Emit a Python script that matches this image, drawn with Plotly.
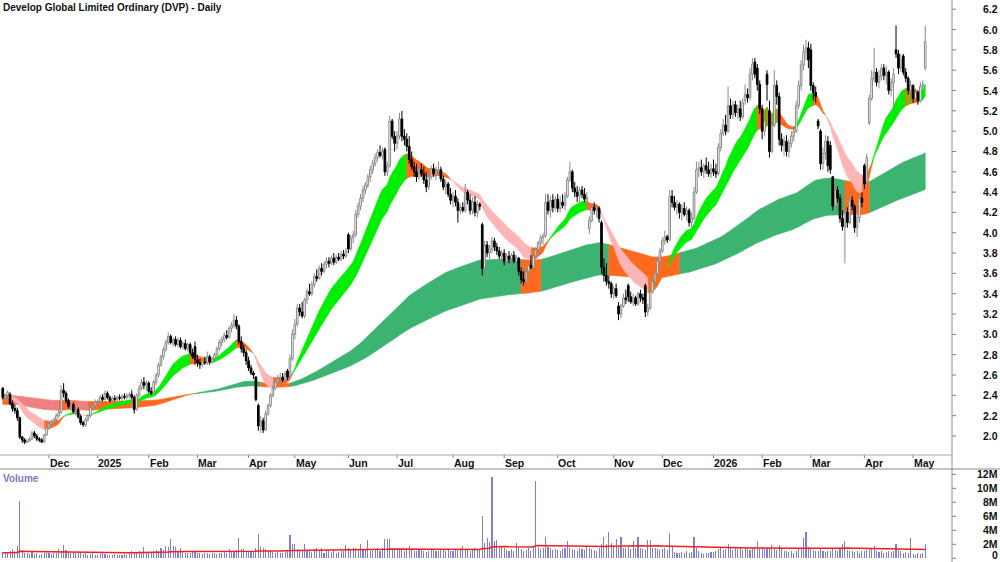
import numpy as np
import pandas as pd
import plotly.graph_objects as go

# ---------------------------------------------------------------- data
TITLE = "Develop Global Limited Ordinary (DVP) - Daily"
FIRST_DAY, LAST_DAY = "2024-11-05", "2026-05-08"
ASX_HOLIDAYS = ["2024-12-25", "2024-12-26", "2025-01-01", "2025-01-27", "2025-04-18",
                "2025-04-21", "2025-04-25", "2025-06-09", "2025-12-25", "2025-12-26",
                "2026-01-01", "2026-01-26", "2026-04-03", "2026-04-06"]

open_px = [
    2.47,2.38,2.40,2.41,2.32,2.27,2.25,2.18,1.99,1.96,1.94,1.95,1.97,2.03,2.00,1.97,1.96,1.94,2.01,
    2.08,2.12,2.14,2.16,2.20,2.23,2.45,2.42,2.35,2.29,2.31,2.24,2.26,2.19,2.13,2.11,2.16,2.20,2.28,2.30,
    2.33,2.34,2.38,2.36,2.42,2.38,2.35,2.37,2.36,2.38,2.37,2.39,2.38,2.40,2.41,2.38,2.26,2.40,2.47,2.53,2.50,
    2.52,2.44,2.42,2.53,2.60,2.70,2.78,2.85,2.92,2.98,2.92,2.95,2.90,2.94,2.88,2.91,2.86,2.90,2.82,2.88,
    2.75,2.72,2.70,2.73,2.72,2.78,2.73,2.76,2.80,2.86,2.92,2.95,2.99,2.97,3.06,3.09,3.14,3.08,2.93,2.86,2.82,
    2.74,2.67,2.62,2.58,2.30,2.10,2.15,2.06,2.22,2.30,2.40,2.47,2.53,2.56,2.58,2.55,2.64,2.58,2.76,
    3.00,3.10,3.26,3.22,3.18,3.34,3.42,3.40,3.49,3.57,3.55,3.65,3.62,3.69,3.72,3.70,3.75,3.71,3.76,3.74,3.79,3.77,
    3.98,3.84,3.95,3.98,4.18,4.26,4.34,4.42,4.47,4.55,4.62,4.68,4.74,4.79,4.76,4.82,4.60,4.66,5.10,4.95,
    4.88,4.95,5.12,4.95,4.92,4.85,4.72,4.65,4.60,4.55,4.62,4.58,4.52,4.45,4.55,4.63,4.58,4.60,4.62,4.53,4.45,4.48,4.38,
    4.32,4.36,4.30,4.22,4.25,4.22,4.40,4.32,4.22,4.30,4.20,4.28,4.08,3.65,3.88,3.80,3.84,3.92,3.86,3.82,3.77,
    3.80,3.72,3.77,3.74,3.78,3.72,3.75,3.62,3.54,3.52,3.62,3.68,3.66,3.77,3.83,3.90,3.95,3.97,4.30,4.22,4.32,4.25,
    4.33,4.24,4.30,4.27,4.36,4.52,4.60,4.44,4.40,4.36,4.42,4.38,4.33,4.04,4.12,4.25,4.22,4.24,4.10,3.66,3.58,3.52,3.50,
    3.40,3.45,3.28,3.20,3.28,3.36,3.48,3.37,3.32,3.36,3.30,3.40,3.36,3.48,3.22,3.26,3.42,3.52,3.60,3.72,
    3.82,3.92,3.96,3.93,4.36,4.30,4.25,4.28,4.20,4.24,4.18,4.22,4.10,4.14,4.40,4.62,4.64,4.60,4.66,4.62,4.58,
    4.63,4.60,4.58,4.84,4.98,5.06,5.00,5.25,5.16,5.26,5.18,5.22,5.14,5.30,5.36,5.33,5.56,5.68,5.62,5.46,
    5.22,5.00,5.56,5.20,4.80,5.06,5.45,5.34,4.92,4.86,4.90,4.80,4.88,4.95,5.00,5.25,5.45,5.65,5.78,5.82,
    5.80,5.45,5.38,5.10,5.00,4.68,4.78,4.90,4.86,4.55,4.26,4.42,4.34,4.14,4.06,4.20,4.10,4.32,4.26,4.05,4.15,4.34,
    4.66,4.50,5.08,5.32,5.52,5.58,5.48,5.54,5.62,5.55,5.58,5.40,5.48,5.80,5.76,5.62,5.74,5.58,5.52,5.40,
    5.45,5.32,5.38,5.30,5.44,5.62,
]
high_px = [
    2.48,2.42,2.45,2.43,2.35,2.31,2.28,2.19,2.00,1.98,1.97,1.99,2.05,2.05,2.02,1.99,1.98,2.02,2.10,
    2.14,2.16,2.18,2.22,2.25,2.50,2.52,2.44,2.37,2.33,2.33,2.28,2.28,2.21,2.15,2.18,2.22,2.30,2.33,2.36,
    2.36,2.40,2.41,2.45,2.44,2.40,2.39,2.40,2.40,2.41,2.41,2.42,2.42,2.43,2.45,2.40,2.42,2.50,2.56,2.58,2.55,
    2.54,2.48,2.55,2.62,2.72,2.80,2.88,2.95,3.02,3.00,2.97,2.98,2.97,2.97,2.93,2.95,2.92,2.92,2.86,2.93,
    2.80,2.76,2.74,2.78,2.83,2.80,2.78,2.82,2.88,2.95,2.98,3.02,3.04,3.08,3.12,3.20,3.18,3.10,2.98,2.90,2.85,
    2.78,2.70,2.64,2.59,2.32,2.20,2.18,2.25,2.32,2.42,2.50,2.56,2.60,2.62,2.62,2.64,2.66,2.80,3.05,
    3.15,3.30,3.30,3.32,3.36,3.45,3.50,3.52,3.60,3.64,3.68,3.70,3.72,3.76,3.76,3.78,3.80,3.78,3.80,3.82,3.83,3.85,
    4.00,3.98,4.02,4.22,4.30,4.38,4.46,4.50,4.58,4.66,4.72,4.78,4.82,4.86,4.84,4.84,4.70,5.15,5.12,5.00,
    5.00,5.18,5.20,5.02,4.98,4.95,4.80,4.70,4.68,4.66,4.68,4.65,4.60,4.58,4.66,4.68,4.65,4.70,4.65,4.56,4.52,4.50,4.44,
    4.40,4.42,4.34,4.28,4.30,4.48,4.42,4.38,4.35,4.36,4.32,4.30,4.10,3.92,3.92,3.88,3.96,3.95,3.90,3.86,3.83,
    3.84,3.80,3.82,3.80,3.82,3.78,3.76,3.66,3.62,3.66,3.72,3.78,3.80,3.86,3.92,3.98,4.00,4.38,4.38,4.36,4.38,4.36,
    4.38,4.36,4.38,4.40,4.55,4.70,4.62,4.50,4.46,4.45,4.46,4.44,4.40,4.16,4.28,4.30,4.28,4.26,4.12,3.75,3.70,3.58,3.52,
    3.48,3.50,3.32,3.30,3.40,3.44,3.50,3.42,3.40,3.38,3.42,3.44,3.40,3.50,3.30,3.45,3.55,3.62,3.75,3.85,
    3.95,4.02,3.98,4.42,4.42,4.36,4.32,4.30,4.28,4.30,4.26,4.24,4.20,4.45,4.70,4.70,4.72,4.68,4.74,4.70,4.68,
    4.72,4.68,4.88,5.02,5.12,5.16,5.44,5.32,5.30,5.30,5.26,5.30,5.32,5.46,5.42,5.62,5.72,5.72,5.66,5.50,
    5.26,5.15,5.60,5.30,5.12,5.60,5.50,5.38,4.98,4.95,4.96,4.92,5.00,5.05,5.30,5.50,5.70,5.85,5.90,5.88,
    5.86,5.48,5.44,5.12,5.02,4.84,4.96,4.95,4.90,4.56,4.48,4.46,4.38,4.22,4.22,4.25,4.38,4.36,4.28,4.18,4.38,4.40,
    4.68,4.78,5.36,5.60,5.82,5.62,5.60,5.66,5.66,5.64,5.60,5.52,5.62,6.04,5.80,5.76,5.76,5.62,5.54,5.50,
    5.46,5.42,5.40,5.48,5.50,6.04,
]
low_px = [
    2.36,2.33,2.36,2.30,2.24,2.22,2.15,1.97,1.93,1.92,1.93,1.94,1.96,1.98,1.95,1.94,1.93,1.94,2.00,
    2.06,2.09,2.11,2.14,2.18,2.22,2.38,2.32,2.27,2.24,2.22,2.20,2.17,2.11,2.09,2.09,2.14,2.18,2.25,2.27,
    2.30,2.32,2.34,2.35,2.36,2.33,2.33,2.34,2.33,2.35,2.34,2.36,2.36,2.37,2.36,2.22,2.25,2.38,2.45,2.46,2.44,
    2.42,2.40,2.41,2.50,2.58,2.68,2.75,2.83,2.90,2.90,2.88,2.88,2.87,2.86,2.85,2.84,2.83,2.80,2.76,2.70,
    2.68,2.66,2.68,2.70,2.70,2.70,2.71,2.74,2.78,2.84,2.88,2.92,2.95,2.96,3.02,3.06,3.05,2.90,2.82,2.78,2.70,
    2.64,2.60,2.56,2.34,2.05,2.03,2.03,2.05,2.20,2.28,2.38,2.45,2.50,2.52,2.53,2.53,2.55,2.56,2.74,
    2.95,3.08,3.18,3.16,3.16,3.30,3.38,3.38,3.46,3.52,3.54,3.58,3.60,3.65,3.66,3.68,3.68,3.69,3.72,3.72,3.74,3.75,
    3.80,3.82,3.90,3.96,4.15,4.22,4.30,4.38,4.44,4.50,4.58,4.65,4.70,4.74,4.72,4.56,4.56,4.64,4.92,4.80,
    4.82,4.92,4.90,4.86,4.80,4.68,4.62,4.55,4.50,4.52,4.55,4.48,4.40,4.42,4.52,4.55,4.52,4.56,4.50,4.42,4.38,4.35,4.28,
    4.25,4.26,4.10,4.18,4.20,4.20,4.28,4.18,4.18,4.16,4.15,4.22,3.58,3.56,3.76,3.74,3.80,3.82,3.78,3.74,3.72,
    3.68,3.66,3.70,3.66,3.70,3.64,3.58,3.50,3.48,3.50,3.58,3.64,3.64,3.74,3.80,3.86,3.88,3.95,4.18,4.15,4.20,4.22,
    4.20,4.20,4.24,4.22,4.34,4.50,4.40,4.35,4.30,4.30,4.34,4.30,4.22,3.99,4.10,4.18,4.15,4.10,3.60,3.52,3.48,3.45,3.36,
    3.35,3.36,3.14,3.16,3.26,3.30,3.32,3.30,3.28,3.28,3.28,3.32,3.30,3.17,3.18,3.24,3.40,3.48,3.58,3.70,
    3.80,3.88,3.90,3.92,4.25,4.22,4.18,4.14,4.12,4.16,4.12,4.06,4.05,4.12,4.38,4.55,4.56,4.54,4.58,4.55,4.54,
    4.56,4.54,4.56,4.80,4.95,4.96,4.98,5.12,5.12,5.14,5.12,5.10,5.12,5.26,5.28,5.30,5.50,5.52,5.40,5.17,
    4.92,4.95,5.30,4.74,4.78,5.04,5.26,4.86,4.80,4.76,4.75,4.74,4.84,4.90,4.98,5.22,5.40,5.60,5.70,5.62,
    5.40,5.30,5.28,5.02,4.62,4.62,4.72,4.60,4.58,4.22,4.24,4.30,4.10,4.02,3.70,4.05,4.08,4.22,4.00,3.96,4.10,4.25,
    4.43,4.48,5.06,5.30,5.48,5.44,5.42,5.50,5.50,5.46,5.36,5.34,5.20,5.72,5.56,5.58,5.55,5.48,5.36,5.34,
    5.28,5.28,5.26,5.28,5.40,5.60,
]
close_px = [
    2.38,2.40,2.43,2.32,2.27,2.25,2.18,1.99,1.96,1.94,1.95,1.97,2.03,2.00,1.97,1.96,1.94,2.01,2.08,
    2.12,2.14,2.16,2.20,2.23,2.45,2.42,2.35,2.29,2.31,2.24,2.26,2.19,2.13,2.11,2.16,2.20,2.28,2.30,2.33,
    2.34,2.38,2.36,2.42,2.38,2.35,2.37,2.36,2.38,2.37,2.39,2.38,2.40,2.41,2.38,2.26,2.40,2.47,2.53,2.50,2.52,
    2.44,2.42,2.53,2.60,2.70,2.78,2.85,2.92,2.98,2.92,2.95,2.90,2.94,2.88,2.91,2.86,2.90,2.82,2.78,2.75,
    2.72,2.70,2.73,2.72,2.78,2.73,2.76,2.80,2.86,2.92,2.95,2.99,2.97,3.06,3.09,3.14,3.08,2.93,2.86,2.82,2.74,
    2.67,2.62,2.60,2.36,2.10,2.15,2.06,2.22,2.30,2.40,2.47,2.53,2.56,2.58,2.55,2.61,2.58,2.76,3.00,
    3.10,3.26,3.22,3.18,3.34,3.42,3.40,3.49,3.57,3.55,3.65,3.62,3.69,3.72,3.70,3.75,3.71,3.76,3.74,3.79,3.77,3.82,
    3.84,3.95,3.98,4.18,4.26,4.34,4.42,4.47,4.55,4.62,4.68,4.74,4.79,4.76,4.80,4.60,4.66,5.10,4.95,4.88,
    4.95,5.12,4.95,4.92,4.85,4.72,4.65,4.60,4.55,4.62,4.58,4.52,4.45,4.55,4.63,4.58,4.60,4.62,4.53,4.45,4.48,4.38,4.32,
    4.36,4.30,4.22,4.25,4.22,4.40,4.32,4.22,4.30,4.20,4.28,4.26,3.65,3.88,3.80,3.84,3.92,3.86,3.82,3.77,3.80,
    3.72,3.77,3.74,3.78,3.72,3.75,3.62,3.54,3.52,3.62,3.68,3.66,3.77,3.83,3.90,3.95,3.97,4.30,4.22,4.32,4.25,4.33,
    4.24,4.30,4.27,4.36,4.52,4.60,4.44,4.40,4.36,4.42,4.38,4.33,4.35,4.12,4.25,4.22,4.24,4.14,3.66,3.58,3.52,3.50,3.40,
    3.45,3.38,3.20,3.28,3.36,3.34,3.37,3.32,3.36,3.30,3.40,3.36,3.34,3.22,3.26,3.42,3.52,3.60,3.72,3.82,
    3.92,3.96,3.93,4.36,4.30,4.25,4.28,4.20,4.24,4.18,4.22,4.10,4.14,4.40,4.62,4.64,4.60,4.66,4.62,4.58,4.63,
    4.60,4.58,4.84,4.98,5.06,5.00,5.25,5.16,5.26,5.18,5.22,5.14,5.28,5.36,5.33,5.56,5.66,5.56,5.46,5.22,
    5.00,5.10,5.46,4.80,5.06,5.45,5.34,4.92,4.86,4.90,4.80,4.88,4.95,5.00,5.25,5.45,5.65,5.78,5.82,5.70,
    5.45,5.38,5.34,5.05,4.68,4.78,4.90,4.66,4.62,4.26,4.42,4.34,4.14,4.06,4.20,4.10,4.32,4.26,4.05,4.15,4.34,4.30,
    4.48,4.74,5.32,5.52,5.58,5.48,5.54,5.62,5.55,5.58,5.40,5.48,5.56,5.76,5.62,5.70,5.58,5.52,5.40,5.45,
    5.32,5.38,5.30,5.44,5.46,5.88,
]
volume_m = [
    0.9,0.7,0.8,1.0,1.3,1.0,1.7,8.2,1.2,0.8,0.7,0.6,0.9,0.6,0.7,0.5,0.6,0.7,0.8,
    0.7,0.6,0.8,0.7,1.3,1.0,1.9,1.2,0.9,0.8,0.9,0.7,0.8,0.9,0.6,0.7,0.5,0.6,0.7,0.4,
    0.5,0.6,0.7,0.6,0.5,0.4,0.5,0.6,0.5,0.4,0.5,0.6,0.5,0.7,1.1,0.9,0.8,1.0,0.9,1.6,0.8,
    0.9,0.8,1.0,1.2,1.0,1.4,1.2,1.7,1.6,2.7,1.8,1.6,1.1,1.5,1.0,0.8,0.7,0.8,0.9,1.0,
    0.8,0.7,0.6,0.8,0.7,0.6,0.7,0.8,0.6,0.7,0.8,0.9,0.7,1.3,1.0,0.9,1.2,2.9,1.3,1.3,1.1,
    1.0,0.9,1.0,1.4,3.4,1.6,1.4,1.3,1.1,1.0,0.9,0.8,0.9,0.8,0.7,0.9,1.0,3.3,2.0,
    2.0,1.3,1.1,1.0,2.0,1.2,1.0,0.9,1.3,1.4,1.2,1.5,0.8,1.0,1.1,0.9,1.2,0.8,0.9,1.0,1.1,1.9,
    1.4,1.3,1.5,1.4,1.3,2.1,1.2,1.3,2.6,1.0,1.1,1.2,1.4,1.1,1.5,2.8,2.8,2.7,1.2,1.3,
    1.3,1.4,1.2,1.1,1.3,1.7,1.2,1.0,1.1,1.3,1.2,1.0,0.9,1.1,1.2,1.3,1.1,1.0,1.2,1.3,1.1,1.2,1.0,
    1.1,1.2,1.3,1.4,1.7,1.3,1.2,1.1,1.3,1.4,1.2,1.3,6.0,2.2,2.9,2.3,11.6,2.4,2.6,1.5,1.6,
    1.4,1.2,1.0,1.3,1.1,2.2,1.5,1.3,1.0,1.2,1.4,1.1,1.6,11.1,1.5,1.3,1.4,3.1,1.6,1.4,1.2,1.3,
    1.2,1.1,1.3,1.4,2.4,1.5,1.3,1.2,1.1,1.4,1.3,1.2,1.8,1.4,1.3,1.2,1.1,1.5,2.0,3.1,2.0,3.7,2.2,
    1.8,2.8,1.6,3.0,1.5,1.4,1.6,1.3,2.5,1.4,3.0,1.5,1.3,1.2,2.6,2.6,1.5,1.4,1.3,1.2,
    1.3,1.5,1.2,3.6,1.6,0.9,0.8,0.7,0.9,0.8,1.0,0.8,0.9,3.0,1.4,1.0,0.8,0.6,0.7,0.8,0.9,
    0.9,1.0,1.3,1.4,1.2,1.3,2.1,1.4,1.2,1.5,1.3,1.6,1.2,1.4,1.3,1.2,1.5,1.6,2.5,1.3,
    1.6,1.3,1.4,1.5,1.9,1.3,1.2,1.9,1.4,1.1,1.0,0.9,1.0,0.8,1.1,1.3,1.5,2.9,3.7,1.6,
    1.4,1.2,1.0,1.1,1.3,1.0,0.9,1.1,1.0,1.4,1.2,1.0,1.3,2.1,2.5,1.2,1.0,1.1,0.9,1.0,0.8,1.0,
    1.0,1.2,1.5,1.3,1.7,1.1,0.9,1.0,0.8,0.9,1.0,0.9,1.1,2.0,1.2,1.0,0.8,0.9,0.7,2.9,
    0.6,0.5,0.7,0.6,0.8,2.0,
]

price_ticks = [2.0, 2.2, 2.4, 2.6, 2.8, 3.0, 3.2, 3.4, 3.6, 3.8, 4.0, 4.2,
               4.4, 4.6, 4.8, 5.0, 5.2, 5.4, 5.6, 5.8, 6.0, 6.2]
volume_ticks = [0, 2, 4, 6, 8, 10, 12]
volume_tick_text = ["0", "2M", "4M", "6M", "8M", "10M", "12M"]
month_names = ["Jan", "Feb", "Mar", "Apr", "May", "Jun", "Jul", "Aug", "Sep", "Oct", "Nov", "Dec"]

# indicator settings (ribbons = EMA pairs, values at first bar)
FAST_PERIODS, FAST_SEED = (16, 28), (2.36, 2.40)
LONG_PERIODS, LONG_SEED = (140, 240), (2.31, 2.40)
TOUCH_GAP = 0.05          # fast ribbon counts as touching the long ribbon within this distance
VOL_MA_PERIOD, VOL_MA_SEED = 90, 0.8

# ---------------------------------------------------------------- derived
n = len(close_px)
idx = np.arange(n)
dates = pd.bdate_range(FIRST_DAY, LAST_DAY)
dates = dates[~dates.isin(pd.to_datetime(ASX_HOLIDAYS))][:n]


def ema(values, period, seed):
    a = 2.0 / (period + 1)
    out = [seed]
    for v in values[1:]:
        out.append(out[-1] + a * (v - out[-1]))
    return np.array(out)


closes = np.array(close_px)
fast_s = ema(closes, FAST_PERIODS[0], FAST_SEED[0])
fast_l = ema(closes, FAST_PERIODS[1], FAST_SEED[1])
long_s = ema(closes, LONG_PERIODS[0], LONG_SEED[0])
long_l = ema(closes, LONG_PERIODS[1], LONG_SEED[1])
vol_ma = ema(np.array(volume_m), VOL_MA_PERIOD, VOL_MA_SEED)

X_RANGE = [-1.13, 390.0]
PRICE_RANGE = [1.813, 6.2906]
VOL_RANGE = [-0.53, 12.757]
W, H = 1000, 562
AXIS_X = 952 / W
PRICE_DOMAIN = [1 - 455 / H, 1.0]
VOL_DOMAIN = [0.0, 1 - 469 / H]

fig = go.Figure()


def fast_state(s, l):
    out = []
    for i in range(n):
        j = max(i, 1)
        rising = s[j] >= s[j - 1]
        above = s[j] >= l[j]
        out.append("up" if above and rising else "down" if (not above and not rising) else "mixed")
    return out


def long_state(s, l, fast_low):
    out = []
    for i in range(n):
        j = max(i, 1)
        rising = s[j] >= s[j - 1]
        above = s[j] >= l[j]
        if above and fast_low[j] >= max(s[j], l[j]) + TOUCH_GAP:
            out.append("up")
        elif (not above) and (not rising):
            out.append("down")
        else:
            out.append("mixed")
    return out


def ribbon(s, l, state, colors):
    upper = np.maximum(s, l)
    lower = np.minimum(s, l)
    polys = {k: ([], []) for k in colors}
    a = 0
    for i in range(1, n + 1):
        if i == n or state[i] != state[a]:
            xs = list(range(max(a - 1, 0), i))
            px, py = polys[state[a]]
            px += xs + xs[::-1] + [xs[0], None]
            py += list(upper[xs]) + list(lower[xs][::-1]) + [upper[xs[0]], None]
            a = i
    for k, col in colors.items():
        px, py = polys[k]
        if px:
            fig.add_trace(go.Scatter(x=px, y=py, mode="lines", fill="toself", fillcolor=col,
                                     line=dict(color=col, width=0.6), hoverinfo="skip",
                                     xaxis="x", yaxis="y"))


fast_low = np.minimum(fast_s, fast_l)
ribbon(long_s, long_l, long_state(long_s, long_l, fast_low),
       {"up": "#3cb371", "mixed": "#ff6a1f", "down": "#f08080"})
ribbon(fast_s, fast_l, fast_state(fast_s, fast_l),
       {"up": "#00ee00", "mixed": "#ff6a1f", "down": "#ffb5b5"})

# candles
o, h, l, c = map(np.array, (open_px, high_px, low_px, close_px))
up = c >= o
hw = 0.34
for is_up, wick_col, body_fill, body_line in [(True, "#8a8a8a", "#ffffff", "#8a8a8a"),
                                              (False, "#000000", "#000000", "#000000")]:
    sel = idx[up == is_up]
    wx, wy, bx, by = [], [], [], []
    for i in sel:
        wx += [i, i, None]
        wy += [l[i], h[i], None]
        bx += [i - hw, i + hw, i + hw, i - hw, i - hw, None]
        by += [o[i], o[i], c[i], c[i], o[i], None]
    fig.add_trace(go.Scatter(x=wx, y=wy, mode="lines", line=dict(color=wick_col, width=1),
                             hoverinfo="skip", xaxis="x", yaxis="y"))
    fig.add_trace(go.Scatter(x=bx, y=by, mode="lines", fill="toself", fillcolor=body_fill,
                             line=dict(color=body_line, width=1), hoverinfo="skip",
                             xaxis="x", yaxis="y"))

# volume
fig.add_trace(go.Bar(x=idx, y=volume_m, width=0.45, marker=dict(color="#7f7fd2", line=dict(width=0)),
                     hoverinfo="skip", xaxis="x2", yaxis="y2"))
fig.add_trace(go.Scatter(x=idx, y=vol_ma, mode="lines", line=dict(color="#f02020", width=1.5),
                         hoverinfo="skip", xaxis="x2", yaxis="y2"))

FONT = "Liberation Sans, Arial, sans-serif"
ann = []
shapes = []
ann.append(dict(text=TITLE, x=1 / W, y=1 - 8 / H, xref="paper", yref="paper", xanchor="left",
                yanchor="middle", showarrow=False,
                font=dict(family=FONT, size=10, color="#111111", weight="bold")))
ann.append(dict(text="Volume", x=1 / W, y=1 - 478 / H, xref="paper", yref="paper", xanchor="left",
                yanchor="middle", showarrow=False,
                font=dict(family=FONT, size=10, color="#7a7ac4", weight="bold")))
for v in price_ticks:
    ann.append(dict(text=f"{v:.1f}", x=999.5 / W, y=v, xref="paper", yref="y", xanchor="right",
                    yanchor="middle", showarrow=False,
                    font=dict(family=FONT, size=10.5, color="#111111", weight="bold")))
    shapes.append(dict(type="line", xref="paper", yref="y", x0=AXIS_X, x1=AXIS_X + 4 / W, y0=v, y1=v,
                       line=dict(color="#808080", width=1)))
for v, t in zip(volume_ticks, volume_tick_text):
    # keep the bottom label fully inside the picture
    ann.append(dict(text=t, x=999.5 / W, y=max(v, 0.4), xref="paper", yref="y2", xanchor="right",
                    yanchor="middle", showarrow=False,
                    font=dict(family=FONT, size=10.5, color="#111111", weight="bold")))
    shapes.append(dict(type="line", xref="paper", yref="y2", x0=AXIS_X, x1=AXIS_X + 4 / W, y0=v, y1=v,
                       line=dict(color="#808080", width=1)))

# month labels
for i in range(1, n):
    if dates[i].month != dates[i - 1].month:
        label = str(dates[i].year) if dates[i].month == 1 else month_names[dates[i].month - 1]
        ann.append(dict(text=label, x=i - 0.5, y=1 - 462.5 / H, xref="x", yref="paper",
                        xanchor="left", yanchor="middle", showarrow=False,
                        font=dict(family=FONT, size=10.5, color="#111111", weight="bold")))
        shapes.append(dict(type="line", xref="x", yref="paper", x0=i, x1=i,
                           y0=1 - 455 / H, y1=1 - 458 / H, line=dict(color="#808080", width=1)))

shapes += [
    dict(type="line", xref="paper", yref="paper", x0=0, x1=AXIS_X, y0=1 - 455 / H, y1=1 - 455 / H,
         line=dict(color="#a8a8a8", width=1)),
    dict(type="line", xref="paper", yref="paper", x0=0, x1=1, y0=1 - 469 / H, y1=1 - 469 / H,
         line=dict(color="#8c8c8c", width=1)),
    dict(type="line", xref="paper", yref="paper", x0=AXIS_X, x1=AXIS_X, y0=0, y1=1,
         line=dict(color="#8c8c8c", width=1)),
]

hidden = dict(showgrid=False, zeroline=False, showticklabels=False, showline=False, ticks="")
fig.update_layout(
    width=W, height=H, autosize=False, margin=dict(l=0, r=0, t=0, b=0, pad=0),
    paper_bgcolor="white", plot_bgcolor="white", showlegend=False, hovermode=False,
    xaxis=dict(domain=[0, AXIS_X], range=X_RANGE, anchor="y", **hidden),
    yaxis=dict(domain=PRICE_DOMAIN, range=PRICE_RANGE, anchor="x", **hidden),
    xaxis2=dict(domain=[0, AXIS_X], range=X_RANGE, anchor="y2", matches="x", **hidden),
    yaxis2=dict(domain=VOL_DOMAIN, range=VOL_RANGE, anchor="x2", **hidden),
    annotations=ann, shapes=shapes, bargap=0,
)

fig.write_html("out.html", include_plotlyjs=True, full_html=True,
               config={"staticPlot": True},
               post_script="document.body.style.margin='0';document.body.style.padding='0';")
